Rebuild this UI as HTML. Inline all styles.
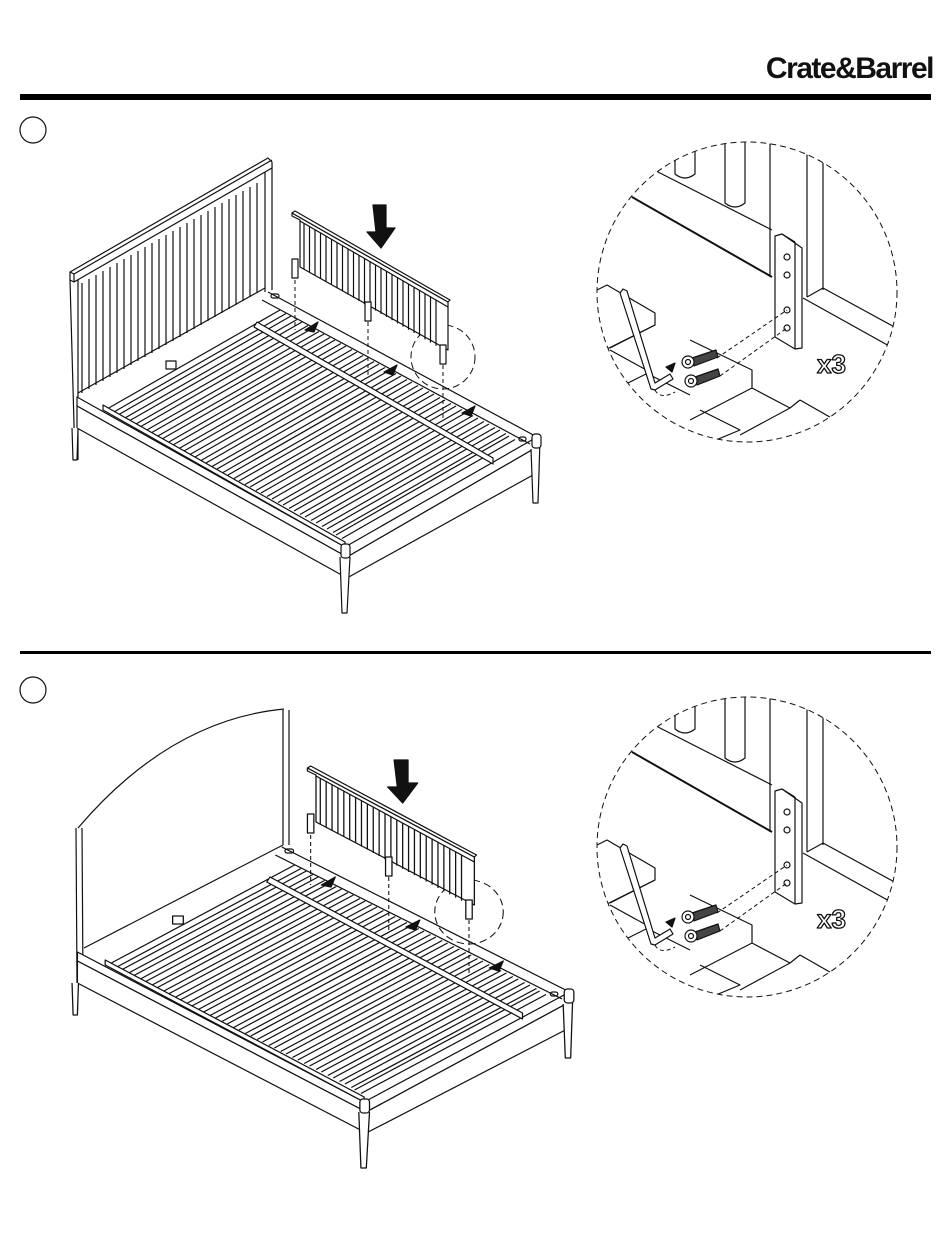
<!DOCTYPE html>
<html><head><meta charset="utf-8"><style>
html,body{margin:0;padding:0;background:#fff;}
svg{display:block;}
</style></head><body>
<svg width="950" height="1254" viewBox="0 0 950 1254" xmlns="http://www.w3.org/2000/svg" fill="none" stroke="#111" stroke-width="1.2" stroke-linejoin="round">
<defs>
  <line id="hs" x1="0" y1="0" x2="0" y2="110"/>
  <g id="slat"><line x1="0" y1="0" x2="173" y2="-99"/><line x1="6" y1="3.5" x2="179" y2="-95.5"/></g>
  <line id="ps" x1="0" y1="0" x2="0" y2="46"/>
  <clipPath id="dc"><circle cx="747" cy="292" r="150"/></clipPath>

  <g id="bedbase">
    <polygon points="77,397 345,547 537,437 537,447 347,557 77,406" fill="#fff"/>
    <polygon points="77,406 347,557 347,578 77,428" fill="#fff"/>
    <polygon points="347,557 537,447 533,475 347,578" fill="#fff"/>
    <line x1="268" y1="292" x2="537" y2="437"/>
    <line x1="262" y1="300" x2="530" y2="444"/>
    <g>
      <use href="#slat" transform="translate(107,409)"/>
      <use href="#slat" transform="translate(118,415)"/>
      <use href="#slat" transform="translate(129,421)"/>
      <use href="#slat" transform="translate(140,427)"/>
      <use href="#slat" transform="translate(151,433)"/>
      <use href="#slat" transform="translate(162,439)"/>
      <use href="#slat" transform="translate(173,445)"/>
      <use href="#slat" transform="translate(184,451)"/>
      <use href="#slat" transform="translate(195,457)"/>
      <use href="#slat" transform="translate(206,463)"/>
      <use href="#slat" transform="translate(217,469)"/>
      <use href="#slat" transform="translate(228,475)"/>
      <use href="#slat" transform="translate(239,481)"/>
      <use href="#slat" transform="translate(250,487)"/>
      <use href="#slat" transform="translate(261,493)"/>
      <use href="#slat" transform="translate(272,499)"/>
      <use href="#slat" transform="translate(283,505)"/>
      <use href="#slat" transform="translate(294,511)"/>
      <use href="#slat" transform="translate(305,517)"/>
      <use href="#slat" transform="translate(316,523)"/>
      <use href="#slat" transform="translate(327,529)"/>
      <use href="#slat" transform="translate(336,535)"/>
    </g>
    <polygon points="103,405 345,542 345,547 103,410" fill="#fff"/>
    <polygon points="257,322 493,458 493,464 254,327" fill="#fff"/>
    <path d="M340,557 L342,613 L347,613 L350,557" fill="#fff"/>
    <path d="M531,449 L533,503 L538,503 L540,440" fill="#fff"/>
    <path d="M72,428 L73,460 L77,460 L78,428" fill="#fff"/>
    <rect x="341" y="544" width="9" height="14" rx="3" fill="#fff"/>
    <rect x="532" y="434" width="9" height="14" rx="3" fill="#fff"/>
    <rect x="271" y="294" width="8" height="4" rx="2"/>
    <rect x="519" y="437" width="7" height="4" rx="2"/>
    <rect x="166" y="361" width="10" height="8" fill="#fff"/>
    <g stroke-dasharray="4,3" stroke-width="1">
      <line x1="295" y1="280" x2="295" y2="330"/>
      <line x1="368" y1="322" x2="368" y2="375"/>
      <line x1="443" y1="365" x2="443" y2="420"/>
    </g>
    <g fill="#111">
      <polygon points="305,330 318,322 314,332"/>
      <polygon points="384,372 397,365 393,375"/>
      <polygon points="462,413 475,406 471,416"/>
    </g>
    <circle cx="443" cy="357" r="32" stroke-dasharray="7,4" stroke-width="1"/>
    <polygon points="292,213 448,302 448,350 300,267 300,220 292,216" fill="#fff"/>
    <polygon points="292,213 295,211 450,300 448,302" fill="#fff"/>
    <line x1="300" y1="221" x2="448" y2="307"/>
    <g>
      <use href="#ps" transform="translate(304,223)"/><use href="#ps" transform="translate(309.5,226.2)"/>
      <use href="#ps" transform="translate(315,229.4)"/><use href="#ps" transform="translate(320.5,232.6)"/>
      <use href="#ps" transform="translate(326,235.8)"/><use href="#ps" transform="translate(331.5,239)"/>
      <use href="#ps" transform="translate(337,242.2)"/><use href="#ps" transform="translate(342.5,245.4)"/>
      <use href="#ps" transform="translate(348,248.6)"/><use href="#ps" transform="translate(353.5,251.8)"/>
      <use href="#ps" transform="translate(359,255)"/><use href="#ps" transform="translate(364.5,258.2)"/>
      <use href="#ps" transform="translate(370,261.4)"/><use href="#ps" transform="translate(375.5,264.6)"/>
      <use href="#ps" transform="translate(381,267.8)"/><use href="#ps" transform="translate(386.5,271)"/>
      <use href="#ps" transform="translate(392,274.2)"/><use href="#ps" transform="translate(397.5,277.4)"/>
      <use href="#ps" transform="translate(403,280.6)"/><use href="#ps" transform="translate(408.5,283.8)"/>
      <use href="#ps" transform="translate(414,287)"/><use href="#ps" transform="translate(419.5,290.2)"/>
      <use href="#ps" transform="translate(425,293.4)"/><use href="#ps" transform="translate(430.5,296.6)"/>
      <use href="#ps" transform="translate(436,299.8)"/>
    </g>
    <rect x="292" y="259" width="6" height="19" fill="#fff"/>
    <rect x="365" y="302" width="6" height="19" fill="#fff"/>
    <rect x="440" y="345" width="6" height="19" fill="#fff"/>
    <polygon points="373,205 386,205 386,228 395,228 381,248 367,232 376,232" fill="#111"/>
  </g>

  <g id="detail">
    <g clip-path="url(#dc)">
      <rect x="590" y="135" width="320" height="320" fill="#fff" stroke="none"/>
      <line x1="632" y1="197" x2="772" y2="277" stroke-width="2"/>
      <line x1="658" y1="172" x2="772" y2="230"/>
      <line x1="770" y1="140" x2="770" y2="277"/>
      <line x1="807" y1="140" x2="807" y2="297"/>
      <line x1="823" y1="140" x2="823" y2="290"/>
      <path d="M675,140 L675,174 Q685,182 695,174 L695,140"/>
      <path d="M725,140 L725,203 Q735,211 745,203 L745,140"/>
      <line x1="803" y1="298" x2="900" y2="352"/>
      <line x1="823" y1="288" x2="900" y2="330"/>
      <line x1="823" y1="288" x2="807" y2="297"/>
      <polygon points="775,236 782,234 802,248 802,348 795,349 775,337" fill="#fff"/>
      <line x1="782" y1="234" x2="795" y2="242"/><line x1="795" y1="242" x2="795" y2="349"/>
      <circle cx="787" cy="257" r="3"/><circle cx="787" cy="275" r="3"/>
      <circle cx="787" cy="310" r="3"/><circle cx="787" cy="328" r="3"/>
      <polyline points="597,290 607,285 655,313 655,325 605,350"/>
      <line x1="655" y1="325" x2="610" y2="348"/>
      <polyline points="610,350 650,372 620,387"/>
      <polyline points="690,340 752,370 752,388 690,420"/>
      <line x1="650" y1="375" x2="690" y2="395"/>
      <polyline points="752,388 790,408 740,435"/>
      <polyline points="700,410 740,430 680,455"/>
      <line x1="790" y1="408" x2="800" y2="400"/><line x1="800" y1="400" x2="835" y2="420"/>
      <path d="M620,293 L623,289 L627,291 L655,383 L670,374 L673,379 L655,390 L651,389 Z" fill="#fff"/>
      <g stroke-dasharray="4,3" stroke-width="1">
        <line x1="717" y1="358" x2="787" y2="310"/>
        <line x1="720" y1="376" x2="787" y2="328"/>
        <path d="M655,390 Q660,400 675,392"/>
      </g>
      <polygon points="692,358 716,350 718,357 694,366" fill="#444"/>
      <circle cx="688" cy="362" r="6" fill="#fff"/><circle cx="688" cy="362" r="2.5"/>
      <polygon points="695,377 718,369 720,376 697,385" fill="#444"/>
      <circle cx="691" cy="381" r="6" fill="#fff"/><circle cx="691" cy="381" r="2.5"/>
      <polygon points="666,367 675,363 672,372" fill="#111"/>
    </g>
    <circle cx="747" cy="292" r="150" stroke-dasharray="6,4" stroke-width="1"/>
    <text x="817" y="373" font-family="Liberation Sans, sans-serif" font-size="26" font-weight="bold" fill="#fff" stroke="#111" stroke-width="1.3">x3</text>
  </g>
</defs>

<text x="933" y="78" text-anchor="end" font-family="Liberation Sans, sans-serif" font-size="30" font-weight="bold" fill="#111" stroke="none" letter-spacing="-1.5">Crate&amp;Barrel</text>
<rect x="20" y="94" width="911" height="6" fill="#000" stroke="none"/>
<circle cx="33" cy="130" r="13"/>
<rect x="20" y="651" width="911" height="3" fill="#000" stroke="none"/>
<circle cx="33" cy="690" r="13"/>

<g>
  <line x1="70" y1="280" x2="75" y2="460"/><line x1="78" y1="280" x2="78" y2="460"/>
  <line x1="265" y1="168" x2="265" y2="292"/><line x1="272" y1="165" x2="272" y2="290"/>
  <g>
    <use href="#hs" transform="translate(82,283)"/><use href="#hs" transform="translate(89,279)"/>
    <use href="#hs" transform="translate(96,275)"/><use href="#hs" transform="translate(103,271)"/>
    <use href="#hs" transform="translate(110,267)"/><use href="#hs" transform="translate(117,263)"/>
    <use href="#hs" transform="translate(124,259)"/><use href="#hs" transform="translate(131,255)"/>
    <use href="#hs" transform="translate(138,251)"/><use href="#hs" transform="translate(145,247)"/>
    <use href="#hs" transform="translate(152,243)"/><use href="#hs" transform="translate(159,239)"/>
    <use href="#hs" transform="translate(166,235)"/><use href="#hs" transform="translate(173,231)"/>
    <use href="#hs" transform="translate(180,227)"/><use href="#hs" transform="translate(187,223)"/>
    <use href="#hs" transform="translate(194,219)"/><use href="#hs" transform="translate(201,215)"/>
    <use href="#hs" transform="translate(208,211)"/><use href="#hs" transform="translate(215,207)"/>
    <use href="#hs" transform="translate(222,203)"/><use href="#hs" transform="translate(229,199)"/>
    <use href="#hs" transform="translate(236,195)"/><use href="#hs" transform="translate(243,191)"/>
    <use href="#hs" transform="translate(250,187)"/><use href="#hs" transform="translate(257,183)"/>
  </g>
  <polygon points="70,272 268,158 272,162 272,168 74,282 70,280" fill="#fff"/>
  <line x1="70" y1="272" x2="74" y2="274"/><line x1="74" y1="274" x2="272" y2="160"/><line x1="74" y1="274" x2="74" y2="282"/>
  <line x1="78" y1="393" x2="265" y2="288"/>
  <use href="#bedbase"/>
</g>

<g>
  <path d="M78,828 Q170,720 284,709" />
  <line x1="76" y1="828" x2="77" y2="983"/><line x1="82" y1="828" x2="83" y2="983"/>
  <line x1="283" y1="710" x2="283" y2="845"/><line x1="289" y1="710" x2="289" y2="845"/>
  <line x1="84" y1="948" x2="283" y2="845"/>
  <use href="#bedbase" transform="translate(-5,555) scale(1.07,1)"/>
</g>

<use href="#detail"/>
<use href="#detail" transform="translate(0,555)"/>
</svg>
</body></html>
